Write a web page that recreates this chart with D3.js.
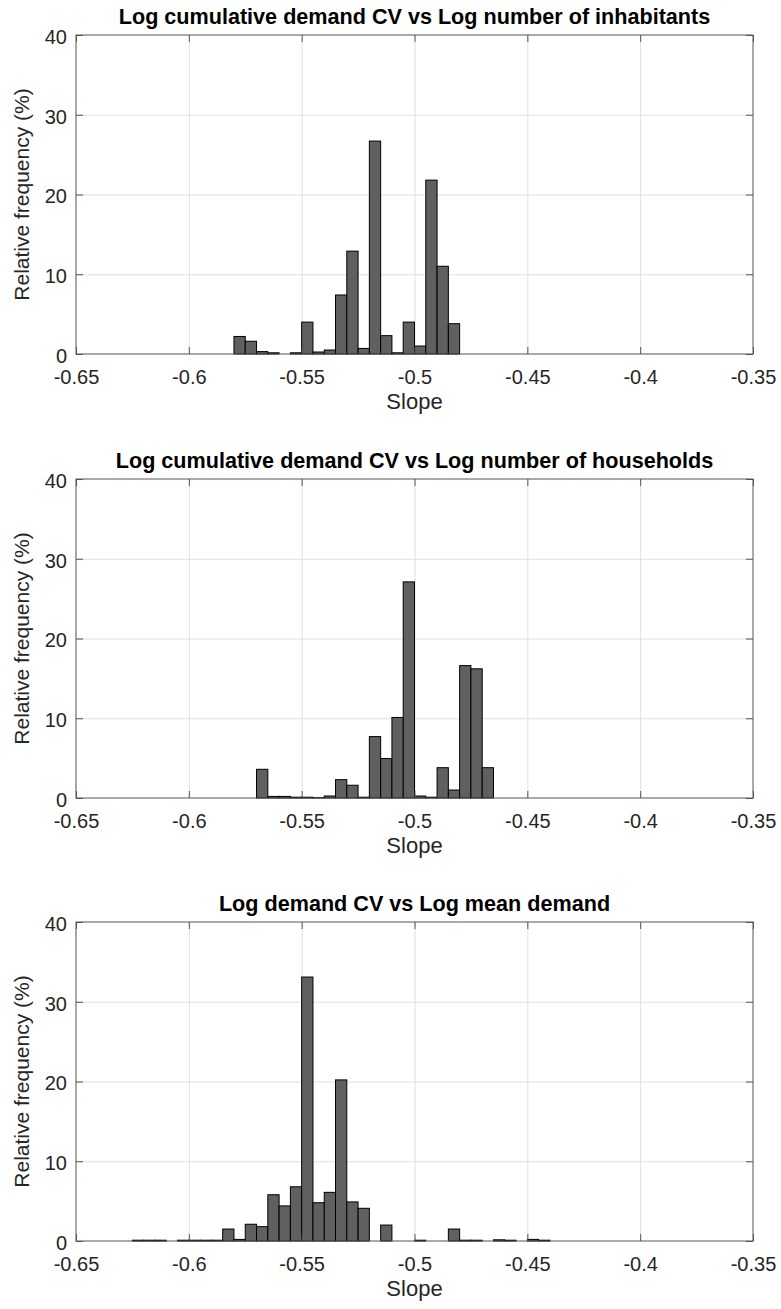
<!DOCTYPE html>
<html>
<head>
<meta charset="utf-8">
<script src="https://cdn.jsdelivr.net/npm/d3@7"></script>
<style>
  body { margin: 0; background: #fff; }
  svg { display: block; font-family: "Liberation Sans", Arial, Helvetica, sans-serif; }
</style>
</head>
<body>
<svg id="chart"></svg>
<script>
const width = 781;
const height = 1309;

// x tick values / labels (same for all three panels)
var xTicks = [-0.65, -0.6, -0.55, -0.5, -0.45, -0.4, -0.35];
var xTickLabels = ["-0.65", "-0.6", "-0.55", "-0.5", "-0.45", "-0.4", "-0.35"];
var yTicks = [0, 10, 20, 30, 40];
var binWidth = 0.005;

var titles = [
  "Log cumulative demand CV vs Log number of inhabitants",
  "Log cumulative demand CV vs Log number of households",
  "Log demand CV vs Log mean demand"
];

// left bin edges + relative frequency (%)
var inhabitantsBins = [-0.58, -0.575, -0.57, -0.565, -0.56, -0.555, -0.55, -0.545, -0.54, -0.535,
  -0.53, -0.525, -0.52, -0.515, -0.51, -0.505, -0.5, -0.495, -0.49, -0.485];
var inhabitantsFreq = [2.2, 1.6, 0.3, 0.15, 0, 0.15, 4.0, 0.25, 0.5, 7.4,
  12.9, 0.7, 26.7, 2.3, 0.15, 4.0, 1.0, 21.8, 11.0, 3.8];

var householdsBins = [-0.57, -0.565, -0.56, -0.555, -0.55, -0.545, -0.54, -0.535, -0.53, -0.525,
  -0.52, -0.515, -0.51, -0.505, -0.5, -0.495, -0.49, -0.485, -0.48, -0.475, -0.47];
var householdsFreq = [3.6, 0.2, 0.2, 0.1, 0.1, 0.05, 0.25, 2.3, 1.6, 0.1,
  7.7, 4.95, 10.1, 27.1, 0.25, 0.1, 3.8, 1.0, 16.6, 16.2, 3.8];

var meanDemandBins = [-0.625, -0.62, -0.615, -0.61, -0.605, -0.6, -0.595, -0.59, -0.585, -0.58,
  -0.575, -0.57, -0.565, -0.56, -0.555, -0.55, -0.545, -0.54, -0.535, -0.53,
  -0.525, -0.52, -0.515, -0.51, -0.505, -0.5, -0.495, -0.49, -0.485, -0.48,
  -0.475, -0.47, -0.465, -0.46, -0.455, -0.45, -0.445];
var meanDemandFreq = [0.1, 0.1, 0.1, 0, 0.1, 0.1, 0.1, 0.1, 1.5, 0.2,
  2.1, 1.8, 5.8, 4.4, 6.8, 33.1, 4.8, 6.1, 20.2, 4.9,
  4.1, 0, 2.0, 0, 0, 0.1, 0, 0, 1.5, 0.1,
  0.1, 0, 0.15, 0.1, 0, 0.2, 0.1];

var panels = [
  { title: titles[0], bins: inhabitantsBins, freq: inhabitantsFreq, top: 35 },
  { title: titles[1], bins: householdsBins, freq: householdsFreq, top: 479 },
  { title: titles[2], bins: meanDemandBins, freq: meanDemandFreq, top: 922 }
];

var plotLeft = 76, plotRight = 753, plotH = 319;
var tickLen = 7;
var textColor = "#262626";
var boxColor = "#555";
var gridColor = "#dfdfdf";

var svg = d3.select("#chart")
  .attr("width", width)
  .attr("height", height);

var xScale = d3.scaleLinear().domain([-0.65, -0.35]).range([plotLeft, plotRight]);

panels.forEach(function (p) {
  var yScale = d3.scaleLinear().domain([0, 40]).range([p.top + plotH, p.top]);
  var g = svg.append("g");

  // grid
  g.append("g")
    .attr("transform", "translate(0," + (p.top + plotH) + ")")
    .call(d3.axisBottom(xScale).tickValues(xTicks.slice(1, -1)).tickSize(-plotH).tickFormat(""))
    .call(s => s.select(".domain").remove())
    .selectAll("line").attr("stroke", gridColor);
  g.append("g")
    .attr("transform", "translate(" + plotLeft + ",0)")
    .call(d3.axisLeft(yScale).tickValues(yTicks.slice(1, -1)).tickSize(-(plotRight - plotLeft)).tickFormat(""))
    .call(s => s.select(".domain").remove())
    .selectAll("line").attr("stroke", gridColor);

  // bars
  var data = p.bins.map((b, i) => ({ x0: b, x1: b + binWidth, v: p.freq[i] }));
  g.selectAll("rect.bar")
    .data(data)
    .enter()
    .append("rect")
    .attr("class", "bar")
    .attr("x", d => xScale(d.x0))
    .attr("width", d => xScale(d.x1) - xScale(d.x0))
    .attr("y", d => yScale(d.v))
    .attr("height", d => yScale(0) - yScale(d.v))
    .attr("fill", "#606060")
    .attr("stroke", "#000")
    .attr("stroke-width", 1);

  // box
  g.append("rect")
    .attr("x", plotLeft)
    .attr("y", p.top)
    .attr("width", plotRight - plotLeft)
    .attr("height", plotH)
    .attr("fill", "none")
    .attr("stroke", boxColor)
    .attr("stroke-width", 1);

  // axes with inward ticks
  var bottom = g.append("g")
    .attr("transform", "translate(0," + (p.top + plotH) + ")")
    .call(d3.axisBottom(xScale).tickValues(xTicks).tickSize(-tickLen).tickSizeOuter(0)
      .tickPadding(16).tickFormat((d, i) => xTickLabels[i]));
  var top = g.append("g")
    .attr("transform", "translate(0," + p.top + ")")
    .call(d3.axisTop(xScale).tickValues(xTicks).tickSize(-tickLen).tickSizeOuter(0).tickFormat(""));
  var leftAx = g.append("g")
    .attr("transform", "translate(" + plotLeft + ",0)")
    .call(d3.axisLeft(yScale).tickValues(yTicks).tickSize(-tickLen).tickSizeOuter(0).tickPadding(9));
  var rightAx = g.append("g")
    .attr("transform", "translate(" + plotRight + ",0)")
    .call(d3.axisRight(yScale).tickValues(yTicks).tickSize(-tickLen).tickSizeOuter(0).tickFormat(""));

  [bottom, top, leftAx, rightAx].forEach(function (a) {
    a.select(".domain").remove();
    a.selectAll("line").attr("stroke", boxColor);
    a.selectAll("text")
      .attr("fill", textColor)
      .style("font-size", "20px")
      .style("font-family", "'Liberation Sans', Arial, Helvetica, sans-serif");
  });
  leftAx.selectAll("text").attr("dy", "0.42em");

  // title
  g.append("text")
    .attr("x", (plotLeft + plotRight) / 2)
    .attr("y", p.top - 11)
    .attr("text-anchor", "middle")
    .attr("font-weight", "bold")
    .attr("font-size", "21.6px")
    .attr("fill", "#000")
    .text(p.title);

  // x label
  g.append("text")
    .attr("x", (plotLeft + plotRight) / 2)
    .attr("y", p.top + plotH + 55)
    .attr("text-anchor", "middle")
    .attr("font-size", "22px")
    .attr("fill", textColor)
    .text("Slope");

  // y label
  g.append("text")
    .attr("transform", "translate(29," + (p.top + plotH / 2) + ") rotate(-90)")
    .attr("text-anchor", "middle")
    .attr("font-size", "21px")
    .attr("fill", textColor)
    .text("Relative frequency (%)");
});
</script>
</body>
</html>
